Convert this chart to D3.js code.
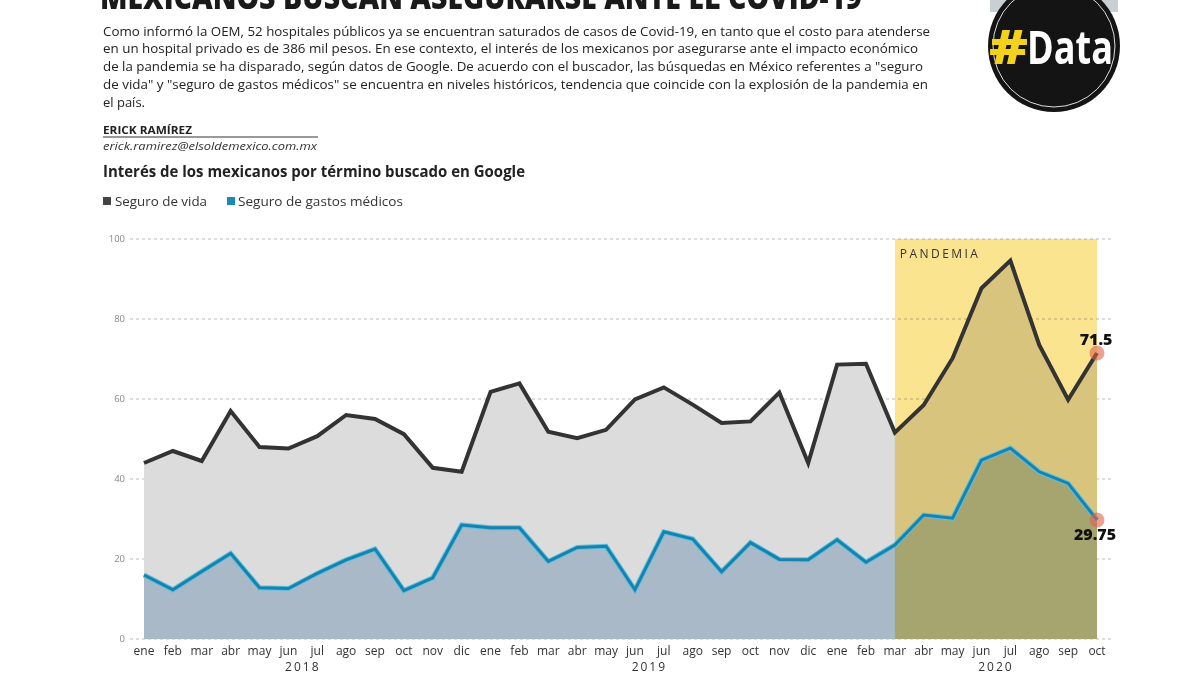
<!DOCTYPE html>
<html><head><meta charset="utf-8">
<script src="https://cdn.jsdelivr.net/npm/d3@7"></script>
<style>body{margin:0;background:#fff}svg{display:block}</style>
</head><body>
<svg id="c" width="1200" height="674"></svg>
<script>
const months = ["ene","feb","mar","abr","may","jun","jul","ago","sep","oct","nov","dic",
  "ene","feb","mar","abr","may","jun","jul","ago","sep","oct","nov","dic",
  "ene","feb","mar","abr","may","jun","jul","ago","sep","oct"];
const years = [{label:"2018", from:5, to:6},{label:"2019", from:17, to:18},{label:"2020", from:29, to:30}];
const seguroVida = [44,47,44.5,57,48,47.6,50.7,56,55,51.2,42.8,41.8,
  61.8,63.9,51.8,50.2,52.3,59.9,62.9,58.6,54,54.4,61.6,44,
  68.6,68.8,51.6,58.5,70.2,87.7,94.6,73.5,59.8,71.5];
const seguroGastos = [16,12.3,16.9,21.4,12.8,12.6,16.4,19.8,22.5,12.1,15.3,28.5,
  27.8,27.8,19.4,22.9,23.2,12.3,26.8,25,16.8,24.1,19.9,19.8,
  24.8,19.2,23.5,31,30.2,44.7,47.7,41.8,38.9,29.75];
const yTicks = [0,20,40,60,80,100];
const pandemiaStart = 26, pandemiaEnd = 33;
const bodyLines = [
  "Como informó la OEM, 52 hospitales públicos ya se encuentran saturados de casos de Covid-19, en tanto que el costo para atenderse",
  "en un hospital privado es de 386 mil pesos. En ese contexto, el interés de los mexicanos por asegurarse ante el impacto económico",
  "de la pandemia se ha disparado, según datos de Google. De acuerdo con el buscador, las búsquedas en México referentes a \"seguro",
  "de vida\" y \"seguro de gastos médicos\" se encuentra en niveles históricos, tendencia que coincide con la explosión de la pandemia en",
  "el país."
];
const bodyEnds = [930, 918, 923, 928, 145];

const svg = d3.select("#c");
const F = "'Open Sans', 'Noto Sans', sans-serif";

// Header
svg.append("text").attr("x",100).attr("y",9).attr("font-family",F).attr("font-weight",800)
  .attr("font-size",34).attr("fill","#1a1a1a").attr("textLength",762).attr("lengthAdjust","spacingAndGlyphs")
  .text("MEXICANOS BUSCAN ASEGURARSE ANTE EL COVID-19");
bodyLines.forEach((t,i)=>{
  svg.append("text").attr("x",103).attr("y",35.5+i*17.8).attr("font-family",F).attr("font-size",12.5)
    .attr("fill","#222").attr("textLength",bodyEnds[i]-103).attr("lengthAdjust","spacingAndGlyphs").text(t);
});
svg.append("text").attr("x",103).attr("y",133.5).attr("font-family",F).attr("font-weight",700).attr("font-size",10.5)
  .attr("fill","#222").attr("textLength",89).attr("lengthAdjust","spacingAndGlyphs").text("ERICK RAMÍREZ");
svg.append("line").attr("x1",103).attr("x2",318).attr("y1",137).attr("y2",137).attr("stroke","#333").attr("stroke-width",1);
svg.append("text").attr("x",103).attr("y",150).attr("font-family",F).attr("font-style","italic").attr("font-size",10.5)
  .attr("fill","#333").attr("textLength",214).attr("lengthAdjust","spacingAndGlyphs").text("erick.ramirez@elsoldemexico.com.mx");
svg.append("text").attr("x",103).attr("y",177).attr("font-family",F).attr("font-weight",700).attr("font-size",15.5)
  .attr("fill","#222").attr("textLength",422).attr("lengthAdjust","spacingAndGlyphs").text("Interés de los mexicanos por término buscado en Google");
// legend
svg.append("rect").attr("x",103).attr("y",197).attr("width",8).attr("height",8).attr("fill","#444");
svg.append("text").attr("x",115).attr("y",206).attr("font-family",F).attr("font-size",12.5).attr("fill","#333")
  .attr("textLength",92).attr("lengthAdjust","spacingAndGlyphs").text("Seguro de vida");
svg.append("rect").attr("x",227).attr("y",197).attr("width",8).attr("height",8).attr("fill","#1a8ab8");
svg.append("text").attr("x",238).attr("y",206).attr("font-family",F).attr("font-size",12.5).attr("fill","#333")
  .attr("textLength",165).attr("lengthAdjust","spacingAndGlyphs").text("Seguro de gastos médicos");

// Logo
const lg = svg.append("g");
lg.append("rect").attr("x",990).attr("y",0).attr("width",128).attr("height",12).attr("fill","#c9d0d4");
lg.append("circle").attr("cx",1054).attr("cy",46).attr("r",66).attr("fill","#141414");
lg.append("circle").attr("cx",1054).attr("cy",46).attr("r",61).attr("fill","none").attr("stroke","#ddd").attr("stroke-width",1);
lg.append("text").attr("x",989).attr("y",64).attr("font-family",F).attr("font-weight",800).attr("font-size",48)
  .attr("fill","#f2d21c").attr("textLength",39).attr("lengthAdjust","spacingAndGlyphs").text("#");
lg.append("text").attr("x",1027).attr("y",64).attr("font-family",F).attr("font-weight",700).attr("font-size",47)
  .attr("fill","#fff").attr("textLength",86).attr("lengthAdjust","spacingAndGlyphs").text("Data");

// Chart
const x = d3.scalePoint().domain(d3.range(months.length)).range([144,1097]);
const y = d3.scaleLinear().domain([0,100]).range([639,239]);
const g = svg.append("g");

// gridlines
g.selectAll("line.grid").data(yTicks).join("line").attr("class","grid")
  .attr("x1",130).attr("x2",1112).attr("y1",d=>y(d)).attr("y2",d=>y(d))
  .attr("stroke","#bbb").attr("stroke-width",1).attr("stroke-dasharray","3,3");
g.selectAll("text.yt").data(yTicks).join("text").attr("class","yt")
  .attr("x",125).attr("y",d=>y(d)+3).attr("text-anchor","end").attr("font-family",F).attr("font-size",9.5)
  .attr("fill","#888").text(d=>d);

const areaGen = vals => d3.area().x((d,i)=>x(i)).y0(y(0)).y1(d=>y(d))(vals);
const lineGen = vals => d3.line().x((d,i)=>x(i)).y(d=>y(d))(vals);
g.append("path").attr("d",areaGen(seguroVida)).attr("fill","#dcdcdc");
g.append("path").attr("d",areaGen(seguroGastos)).attr("fill","#a9b9c7");

// pandemia band
g.append("rect").attr("x",x(pandemiaStart)).attr("y",y(100)).attr("width",x(pandemiaEnd)-x(pandemiaStart))
  .attr("height",y(0)-y(100)).attr("fill","#fbe490").style("mix-blend-mode","multiply");
g.append("text").attr("x",x(pandemiaStart)+5).attr("y",258).attr("font-family",F).attr("font-size",12)
  .attr("letter-spacing",2).attr("fill","#333").attr("textLength",80).text("PANDEMIA");

g.append("path").attr("d",lineGen(seguroVida)).attr("fill","none").attr("stroke","#333").attr("stroke-width",4).attr("stroke-linejoin","miter");
g.append("path").attr("d",lineGen(seguroGastos)).attr("fill","none").attr("stroke","#5cc0e2").attr("stroke-width",5);
g.append("path").attr("d",lineGen(seguroGastos)).attr("fill","none").attr("stroke","#1783ad").attr("stroke-width",3);

// end markers
const last = months.length-1;
[seguroVida, seguroGastos].forEach(s=>{
  g.append("circle").attr("cx",x(last)).attr("cy",y(s[last])).attr("r",7.5).attr("fill","#e0604a").attr("opacity",0.6);
});
g.append("text").attr("x",x(last)-1).attr("y",y(seguroVida[last])-8).attr("text-anchor","middle")
  .attr("font-family",F).attr("font-weight",800).attr("font-size",16).attr("fill","#111").text(seguroVida[last]);
g.append("text").attr("x",x(last)-2).attr("y",y(seguroGastos[last])+20).attr("text-anchor","middle")
  .attr("font-family",F).attr("font-weight",800).attr("font-size",16).attr("fill","#111").text(seguroGastos[last]);

// x axis labels
g.selectAll("text.m").data(months).join("text").attr("class","m")
  .attr("x",(d,i)=>x(i)).attr("y",655).attr("text-anchor","middle").attr("font-family",F).attr("font-size",12)
  .attr("fill","#333").text(d=>d);
g.selectAll("text.yr").data(years).join("text").attr("class","yr")
  .attr("x",d=>(x(d.from)+x(d.to))/2).attr("y",671).attr("text-anchor","middle").attr("font-family",F)
  .attr("font-size",12).attr("letter-spacing",2).attr("fill","#333").text(d=>d.label);
</script>
</body></html>
